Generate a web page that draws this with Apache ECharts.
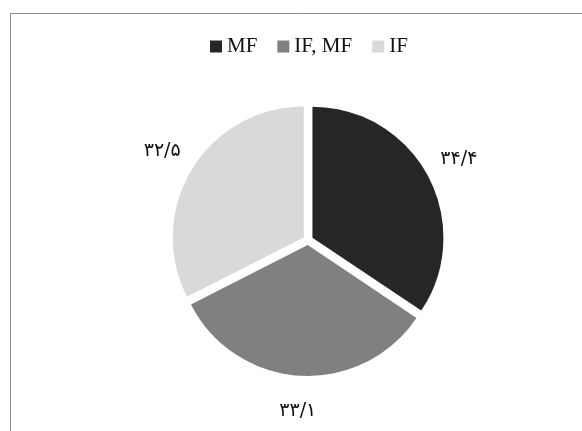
<!DOCTYPE html>
<html>
<head>
<meta charset="utf-8">
<script src="https://cdn.jsdelivr.net/npm/echarts@6/dist/echarts.min.js"></script>
<style>html,body{margin:0;padding:0;background:#fff;}#c{width:582px;height:431px;}</style>
</head>
<body>
<div id="c"></div>
<script>
var categories = ['MF', 'IF, MF', 'IF'];
var values = [34.4, 33.1, 32.5];
var colors = ['#262626', '#808080', '#d9d9d9'];

function toPersian(v) {
  var d = '۰۱۲۳۴۵۶۷۸۹';
  return String(v).replace('.', '/').replace(/[0-9]/g, function (c) { return d[+c]; });
}

var chart = echarts.init(document.getElementById('c'), null, { renderer: 'canvas' });
var pieData = categories.map(function (n, i) {
  return { name: n, value: values[i], selected: true, itemStyle: { color: colors[i] } };
});
var labelData = categories.map(function (n, i) {
  return { name: n, value: values[i] };
});
chart.setOption({
  animation: false,
  backgroundColor: '#fff',
  graphic: [{
    type: 'rect', silent: true,
    shape: { x: 10.5, y: 13.5, width: 700, height: 600 },
    style: { fill: 'none', stroke: '#8c8c8c', lineWidth: 1 }
  }],
  legend: {
    data: categories,
    top: 31, left: 205,
    icon: 'rect', itemWidth: 12, itemHeight: 12, itemGap: 20,
    textStyle: { fontFamily: 'Liberation Serif', fontSize: 21, color: '#111' }
  },
  series: [{
    type: 'pie',
    center: [308, 240],
    radius: 131,
    startAngle: 90,
    clockwise: true,
    selectedMode: 'multiple',
    selectedOffset: 5,
    silent: true,
    label: { show: false },
    labelLine: { show: false },
    emphasis: { disabled: true },
    itemStyle: { borderWidth: 0 },
    data: pieData
  }, {
    type: 'pie',
    center: [308, 240],
    radius: [158, 178],
    startAngle: 90,
    clockwise: true,
    silent: true,
    legendHoverLink: false,
    emphasis: { disabled: true },
    itemStyle: { color: 'rgba(0,0,0,0)' },
    label: {
      show: true, position: 'inside',
      fontFamily: 'DejaVu Sans', fontSize: 19, color: '#111',
      formatter: function (p) { return toPersian(p.value); }
    },
    labelLine: { show: false },
    data: labelData
  }]
});
</script>
</body>
</html>
